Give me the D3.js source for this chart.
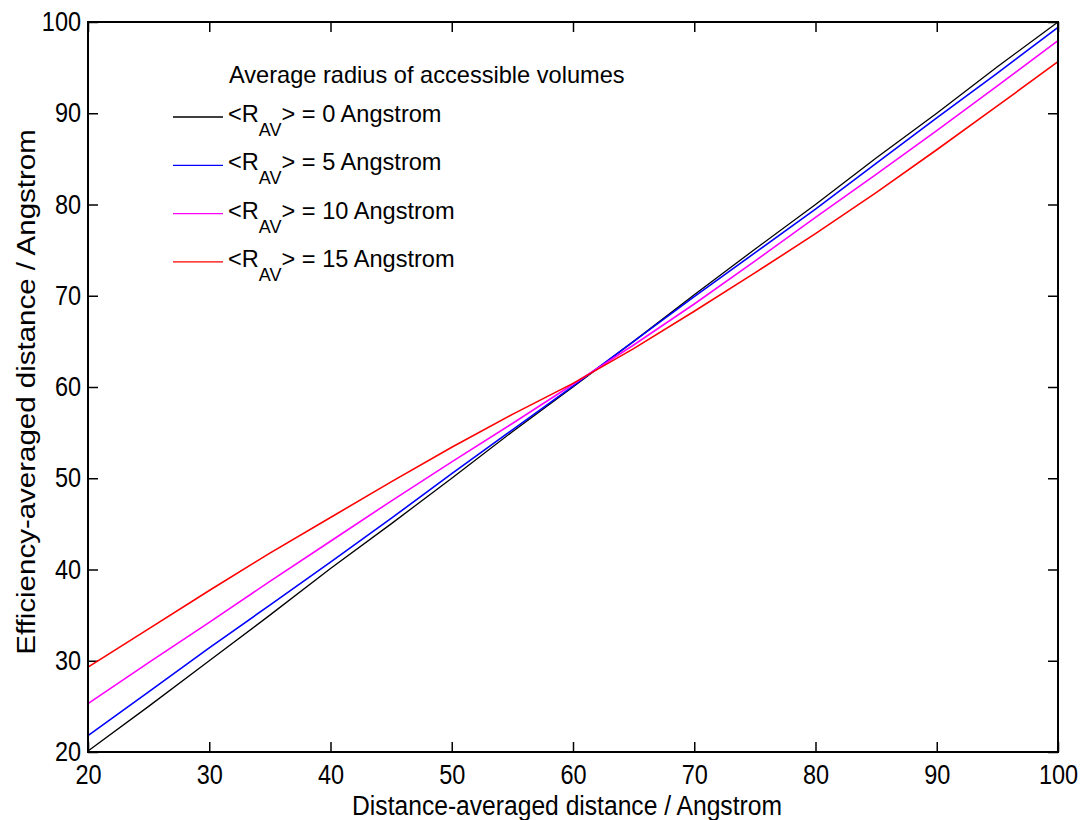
<!DOCTYPE html>
<html>
<head>
<meta charset="utf-8">
<script src="https://cdn.jsdelivr.net/npm/d3@7"></script>
<style>
  body { margin: 0; background: #fff; }
  svg { display: block; font-family: "Liberation Sans", Arial, sans-serif; }
</style>
</head>
<body>
<svg id="main"></svg>
<script>
// distance-averaged distance (x)
const xVals = [20, 25, 30, 35, 40, 45, 50, 55, 60, 65, 70, 75, 80, 85, 90, 95, 100];
// efficiency-averaged distance for each accessible volume radius
const r0  = [20.1, 25.0, 30.0, 35.0, 40.1, 45.0, 50.0, 55.1, 60.0, 65.0, 70.1, 75.1, 80.0, 85.1, 90.0, 95.1, 100];
const r5  = [21.8, 26.6, 31.4, 36.1, 40.8, 45.6, 50.5, 55.3, 60.1, 65.0, 69.9, 74.7, 79.5, 84.5, 89.5, 94.4, 99.4];
const r10 = [25.3, 29.8, 34.2, 38.7, 43.1, 47.5, 51.8, 56.0, 60.3, 64.6, 69.1, 73.8, 78.6, 83.3, 88.1, 93.0, 97.95];
const r15 = [29.3, 33.5, 37.7, 41.8, 45.7, 49.6, 53.4, 57.0, 60.4, 64.2, 68.3, 72.5, 76.8, 81.3, 86.0, 90.8, 95.65];

const radii = ["0", "5", "10", "15"];
const colors = ["#000000", "#0000ff", "#ff00ff", "#ff0000"];
const widths = [1.3, 1.6, 1.6, 1.6];
const xTicks = [20, 30, 40, 50, 60, 70, 80, 90, 100];
const yTicks = [20, 30, 40, 50, 60, 70, 80, 90, 100];

const W = 1081, H = 820;
const pLeft = 88, pRight = 1058, pTop = 22, pBottom = 752;

const svg = d3.select("#main").attr("width", W).attr("height", H);
svg.append("rect").attr("width", W).attr("height", H).attr("fill", "#fff");

const x = d3.scaleLinear().domain([20, 100]).range([pLeft, pRight]);
const y = d3.scaleLinear().domain([20, 100]).range([pBottom, pTop]);

// axes, ticks pointing inwards on all four sides
const gx = svg.append("g")
    .attr("transform", "translate(0," + pBottom + ")")
    .call(d3.axisBottom(x).tickValues(xTicks).tickSizeInner(-10).tickSizeOuter(0).tickPadding(13));
const gy = svg.append("g")
    .attr("transform", "translate(" + pLeft + ",0)")
    .call(d3.axisLeft(y).tickValues(yTicks).tickSizeInner(-10).tickSizeOuter(0).tickPadding(7));
svg.append("g")
    .attr("transform", "translate(0," + pTop + ")")
    .call(d3.axisTop(x).tickValues(xTicks).tickSizeInner(-10).tickSizeOuter(0).tickFormat(""));
svg.append("g")
    .attr("transform", "translate(" + pRight + ",0)")
    .call(d3.axisRight(y).tickValues(yTicks).tickSizeInner(-10).tickSizeOuter(0).tickFormat(""));

svg.selectAll(".domain").remove();
svg.selectAll(".tick line").attr("stroke", "#000").attr("stroke-width", 1.5);
[gx, gy].forEach(g => g.selectAll("text")
    .attr("fill", "#000")
    .attr("font-family", "'Liberation Sans', Arial, sans-serif")
    .attr("font-size", 27)
    .attr("transform", "scale(0.87,1)"));
gy.selectAll("text").attr("x", -7 / 0.87);

// series lines
const series = [r0, r5, r10, r15];
const line = d3.line()
    .x((d, i) => x(xVals[i]))
    .y(d => y(d));

series.forEach((s, k) => {
  svg.append("path")
      .datum(s)
      .attr("fill", "none")
      .attr("stroke", colors[k])
      .attr("stroke-width", widths[k])
      .attr("d", line);
});

// frame
svg.append("rect")
    .attr("x", pLeft).attr("y", pTop)
    .attr("width", pRight - pLeft).attr("height", pBottom - pTop)
    .attr("fill", "none").attr("stroke", "#000").attr("stroke-width", 2);

// axis titles
svg.append("text")
    .attr("transform", "translate(" + ((pLeft + pRight) / 2 - 6) + ",815) scale(0.88,1)")
    .attr("text-anchor", "middle")
    .attr("font-size", 28)
    .text("Distance-averaged distance / Angstrom");

svg.append("text")
    .attr("transform", "translate(35,392) scale(0.9,1) rotate(-90)")
    .attr("text-anchor", "middle")
    .attr("font-size", 29.5)
    .text("Efficiency-averaged distance / Angstrom");

// legend
const leg = svg.append("g");
leg.append("text")
    .attr("x", 229).attr("y", 83)
    .attr("font-size", 23.6)
    .text("Average radius of accessible volumes");

radii.forEach((r, k) => {
  const ly = 117 + k * 48.3;
  leg.append("line")
      .attr("x1", 173).attr("x2", 223)
      .attr("y1", ly).attr("y2", ly)
      .attr("stroke", colors[k]).attr("stroke-width", 1.3);
  const t = leg.append("text")
      .attr("x", 228).attr("y", ly + 5)
      .attr("font-size", 23.6);
  t.append("tspan").text("<R");
  t.append("tspan").attr("font-size", 18).attr("dy", 14).text("AV");
  t.append("tspan").attr("dy", -14).text("> = " + r + " Angstrom");
});
</script>
</body>
</html>
